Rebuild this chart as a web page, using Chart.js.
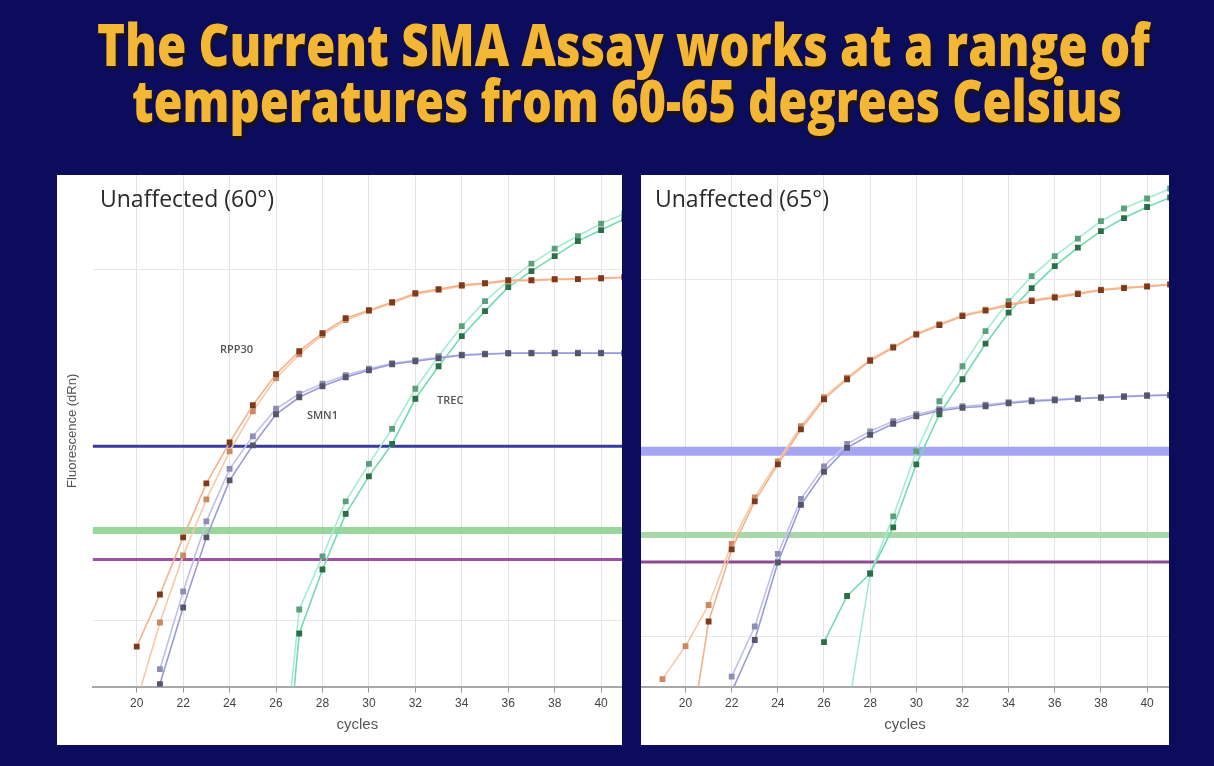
<!DOCTYPE html>
<html>
<head>
<meta charset="utf-8">
<script src="https://cdn.jsdelivr.net/npm/chart.js@4.4.1/dist/chart.umd.min.js"></script>
<style>
  html, body { margin: 0; padding: 0; width: 1214px; height: 766px; overflow: hidden; background: #0c0c5c; font-family: "Open Sans", sans-serif; }
  .title { position: absolute; left: 0; color: #f3b735; font-weight: 800; font-size: 58px; line-height: 58px; white-space: nowrap; text-shadow: 2px 3px 2px #201505; transform-origin: left center; }
  .panel { position: absolute; background: #fff; }
</style>
</head>
<body>
<div class="title" style="top:15px" data-w="1053" data-cx="623">The Current SMA Assay works at a range of</div>
<div class="title" style="top:71px" data-w="990" data-cx="627">temperatures from 60-65 degrees Celsius</div>

<div class="panel" style="left:57px;top:175px;width:565px;height:570px"><canvas id="c60"></canvas></div>
<div class="panel" style="left:641px;top:175px;width:528px;height:570px"><canvas id="c65"></canvas></div>

<script>
// amplification cycles and x tick labels
const cycles = [19,20,21,22,23,24,25,26,27,28,29,30,31,32,33,34,35,36,37,38,39,40,41];
const cycleTicks = [20,22,24,26,28,30,32,34,36,38,40];

// Unaffected (60°) — fluorescence (dRn), two replicates per target
const rpp60  = [null,0.80,1.84,2.98,4.06,4.88,5.62,6.24,6.70,7.06,7.36,7.52,7.68,7.86,7.94,8.02,8.06,8.12,8.12,8.14,8.14,8.16,8.18];
const rpp60b = [null,-0.3,1.28,2.62,3.74,4.70,5.50,6.16,6.64,7.02,7.32,7.50,7.66,7.84,7.92,8.00,8.05,8.10,8.11,8.13,8.14,8.15,8.17];
const smn60  = [null,null,0.05,1.58,2.98,4.12,4.82,5.44,5.78,6.00,6.18,6.32,6.44,6.50,6.56,6.62,6.64,6.66,6.66,6.66,6.66,6.66,6.66];
const smn60b = [null,null,0.35,1.90,3.30,4.35,5.00,5.55,5.85,6.05,6.22,6.35,6.46,6.52,6.58,6.63,6.65,6.66,6.67,6.67,6.67,6.67,6.67];
const trec60  = [null,null,null,null,null,null,null,-4,1.06,2.34,3.45,4.20,4.85,5.75,6.40,7.00,7.50,7.98,8.30,8.60,8.90,9.12,9.34];
const trec60b = [null,null,null,null,null,null,null,-3,1.54,2.60,3.70,4.45,5.15,5.95,6.60,7.20,7.70,8.10,8.45,8.75,9.00,9.25,9.45];
const thresh60 = [4.80, 3.12, 2.54];   // blue, green, purple
const grid60 = [1.32, 8.34];

// Unaffected (65°)
const rpp65  = [null,-1.65,1.30,2.74,3.70,4.44,5.14,5.74,6.14,6.51,6.77,7.03,7.22,7.40,7.51,7.62,7.70,7.77,7.84,7.92,7.96,7.99,8.03];
const rpp65b = [0.15,0.81,1.63,2.85,3.78,4.50,5.20,5.78,6.17,6.53,6.79,7.05,7.24,7.42,7.53,7.64,7.72,7.79,7.86,7.93,7.97,8.00,8.04];
const smn65  = [null,null,null,-0.1,0.93,2.48,3.63,4.29,4.77,5.03,5.25,5.40,5.51,5.57,5.60,5.66,5.70,5.72,5.75,5.77,5.79,5.81,5.82];
const smn65b = [null,null,null,0.2,1.20,2.65,3.75,4.40,4.85,5.10,5.30,5.44,5.54,5.60,5.63,5.68,5.72,5.74,5.76,5.78,5.80,5.82,5.83];
const trec65  = [null,null,null,null,null,null,null,0.89,1.81,2.26,3.18,4.44,5.44,6.14,6.85,7.47,7.96,8.40,8.77,9.10,9.36,9.58,9.77];
const trec65b = [null,null,null,null,null,null,null,null,-0.6,2.26,3.40,4.70,5.70,6.40,7.10,7.70,8.20,8.60,8.95,9.30,9.55,9.75,9.95];
const thresh65 = [4.70, 3.03, 2.49];
const grid65 = [1.0, 8.14];

// curve labels (cycle, dRn)
const labelText = ["RPP30", "SMN1", "TREC"];
const labelAt60 = [[24.3, 6.72], [28.0, 5.40], [33.5, 5.70]];

// fit the slide title lines to their width, centred on data-cx
document.querySelectorAll('.title').forEach(el => {
  const k = el.dataset.w / el.getBoundingClientRect().width;
  el.style.left = (el.dataset.cx - el.dataset.w / 2) + 'px';
  el.style.transform = 'scaleX(' + k + ')';
});

const pts = vals => cycles.map((c, i) => ({ x: c, y: vals[i] }));

function curve(vals, line, mark) {
  return {
    data: pts(vals), borderColor: line, borderWidth: 1.6,
    pointStyle: 'rect', pointRadius: 3, pointBackgroundColor: mark, pointBorderColor: mark,
    tension: 0, order: 1
  };
}
function hline(v, color, w, xmin, xmax) {
  return { data: [{ x: xmin, y: v }, { x: xmax, y: v }], borderColor: color, borderWidth: w, pointRadius: 0, order: 2 };
}

const notes = {
  id: 'notes',
  afterDatasetsDraw(chart, args, o) {
    const { ctx, scales: { x, y } } = chart;
    ctx.save();
    ctx.fillStyle = '#2a2a2a';
    ctx.textBaseline = 'middle';
    ctx.font = '23px "Open Sans"';
    ctx.fillText(o.heading, o.hx, o.hy);
    ctx.font = '600 11px "Open Sans"';
    ctx.fillStyle = '#555';
    ctx.textAlign = 'center';
    (o.labels || []).forEach((p, i) => ctx.fillText(labelText[i], x.getPixelForValue(p[0]), y.getPixelForValue(p[1])));
    ctx.restore();
  }
};

function makeChart(id, sets, th, thColors, thWidths, grid, xmin, xmax, yTitle, heading, hx, labels) {
  const ds = [
    curve(sets[0], '#f3b28c', '#7d3a1c'), curve(sets[1], '#f7c9a8', '#c98a62'),
    curve(sets[2], '#9a9ad8', '#55556c'), curve(sets[3], '#c0c0ea', '#8e8eb4'),
    curve(sets[4], '#72dcb0', '#2c6e48'), curve(sets[5], '#a4ecd0', '#5aa07c'),
  ];
  th.forEach((v, i) => ds.push(hline(v, thColors[i], thWidths[i], xmin, xmax)));
  return new Chart(document.getElementById(id), {
    type: 'line',
    data: { datasets: ds },
    plugins: [notes],
    options: {
      responsive: true, maintainAspectRatio: false, animation: false,
      layout: { autoPadding: false, padding: { bottom: 7 } },
      plugins: { legend: { display: false }, tooltip: { enabled: false },
        notes: { heading: heading, hx: hx, hy: 25, labels: labels } },
      scales: {
        x: {
          type: 'linear', min: xmin, max: xmax,
          afterBuildTicks: s => { s.ticks = cycleTicks.map(v => ({ value: v })); },
          grid: { color: '#e4e4e4', tickLength: 6, tickColor: '#999' },
          border: { color: '#a8a8a8', width: 2 },
          ticks: { color: '#444', font: { size: 12 }, padding: 4, maxRotation: 0 },
          title: { display: true, text: 'cycles', color: '#555', font: { size: 15 }, padding: { top: 1, bottom: 4 } }
        },
        y: {
          min: 0, max: 10.22,
          afterBuildTicks: s => { s.ticks = grid.map(v => ({ value: v })); },
          grid: { color: '#e8e8e8', drawTicks: false },
          border: { display: false },
          ticks: { display: false },
          title: { display: !!yTitle, text: yTitle, color: '#555', font: { size: 13 }, padding: { top: 8, bottom: 12 } }
        }
      }
    }
  });
}

makeChart('c60', [rpp60, rpp60b, smn60, smn60b, trec60, trec60b], thresh60,
  ['#3a3a9c', '#9ad69a', '#a050a0'], [3, 7, 3], grid60, 18.1, 40.9,
  'Fluorescence (dRn)', 'Unaffected (60°)', 43, labelAt60);

makeChart('c65', [rpp65, rpp65b, smn65, smn65b, trec65, trec65b], thresh65,
  ['#a4a4f2', '#a8d8a8', '#8e4a8e'], [9, 6, 3], grid65, 18.07, 40.95,
  '', 'Unaffected (65°)', 14, []);
</script>
</body>
</html>
